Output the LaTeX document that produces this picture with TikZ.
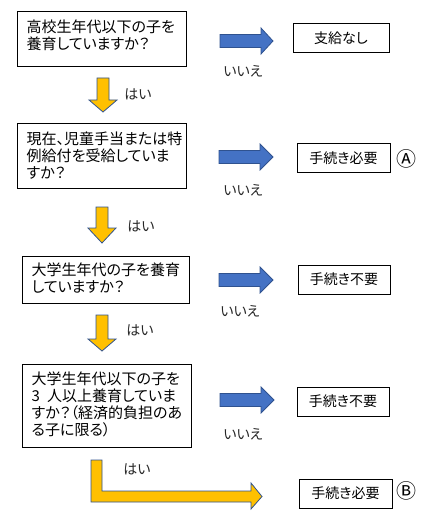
\documentclass[tikz,border=0pt]{standalone}
\usepackage{fontspec}
\setmainfont{Noto Sans CJK JP}[RawFeature=+palt]
\newfontfamily\plainjp{Noto Sans CJK JP}
\definecolor{arrowblue}{HTML}{4472C4}
\definecolor{arrowyellow}{HTML}{FFC000}
\definecolor{arrowedge}{HTML}{2F528F}
\newcommand\rarrowshape[4]{% x0, xhead, xtip, cy
  \draw[barrow] (#1,#4-6.5) -- (#2,#4-6.5) -- (#2,#4-13) -- (#3,#4) -- (#2,#4+13) -- (#2,#4+6.5) -- (#1,#4+6.5) -- cycle;}
\newcommand\darrowshape[4]{% cx, ytop, yhead, ytip
  \draw[yarrow] (#1-6,#2) -- (#1+6,#2) -- (#1+6,#3) -- (#1+14,#3) -- (#1,#4) -- (#1-14,#3) -- (#1-6,#3) -- cycle;}
\begin{document}
\begin{tikzpicture}[x=1pt,y=-1pt,
  qbox/.style={draw, line width=1pt, inner sep=0pt},
  qtext/.style={anchor=north west, inner sep=0pt, align=left, font=\fontsize{15}{17}\selectfont},
  rbox/.style={draw, line width=1pt, inner sep=0pt, minimum height=29pt, font=\fontsize{14}{17}\selectfont},
  lbl/.style={inner sep=0pt, font=\fontsize{14}{17}\selectfont, text=black!85},
  circ/.style={inner sep=0pt, font=\plainjp\fontsize{20}{20}\selectfont},
  barrow/.style={fill=arrowblue, draw=arrowedge, line width=0.8pt},
  yarrow/.style={fill=arrowyellow, draw=arrowedge, line width=0.8pt}]
\useasboundingbox (0,0) rectangle (441,521);
% question boxes
\node[qbox, minimum width=169pt, minimum height=55pt] (q1) at (101.5,39.5) {};
\node[qtext] (q1t) at ([xshift=10pt,yshift=-8pt]q1.north west) {高校生年代以下の子を\\養育していますか？};
\node[qbox, minimum width=169pt, minimum height=65pt] (q2) at (101.5,156.5) {};
\node[qtext] (q2t) at ([xshift=10pt,yshift=-8pt]q2.north west) {現在、児童手当または特\\例給付を受給していま\\すか？};
\node[qbox, minimum width=167pt, minimum height=47pt] (q3) at (105.5,279.5) {};
\node[qtext] (q3t) at ([xshift=10pt,yshift=-7pt]q3.north west) {大学生年代の子を養育\\していますか？};
\node[qbox, minimum width=169pt, minimum height=83pt] (q4) at (106.5,405.5) {};
\node[qtext] (q4t) at ([xshift=10pt,yshift=-8pt]q4.north west) {大学生年代以下の子を\\3\hspace{7pt}人以上養育していま\\すか？（経済的負担のあ\\る子に限る）};
% result boxes
\node[rbox, minimum width=96pt] (r1) at (341,38.5) {支給なし};
\node[rbox, minimum width=93pt] (r2) at (343.5,158.5) {手続き必要};
\node[rbox, minimum width=92pt] (r3) at (344,279.5) {手続き不要};
\node[rbox, minimum width=92pt] (r4) at (343,401.5) {手続き不要};
\node[rbox, minimum width=93pt] (r5) at (345.5,493.5) {手続き必要};
\node[circ] (ca) at (406,159) {Ⓐ};
\node[circ] (cb) at (406,491) {Ⓑ};
% blue arrows (いいえ)
\rarrowshape{220}{261}{273}{41}
\rarrowshape{219}{260}{273}{157}
\rarrowshape{219}{260}{273}{280}
\rarrowshape{220}{261}{274}{400}
\node[lbl] (n1) at (243,71) {いいえ};
\node[lbl] (n2) at (243,190) {いいえ};
\node[lbl] (n3) at (240,311) {いいえ};
\node[lbl] (n4) at (243,434) {いいえ};
% yellow arrows (はい)
\darrowshape{103}{78}{100}{112}
\darrowshape{102}{207}{228}{243}
\darrowshape{102}{315}{339}{351}
\draw[yarrow] (91,460) -- (102,460) -- (102,491) -- (251,491) -- (251,483) -- (262,496.5) -- (251,509) -- (251,502) -- (91,502) -- cycle;
\node[lbl] (y1) at (138,94) {はい};
\node[lbl] (y2) at (141,226) {はい};
\node[lbl] (y3) at (140,330) {はい};
\node[lbl] (y4) at (137,469) {はい};
\end{tikzpicture}
\end{document}
